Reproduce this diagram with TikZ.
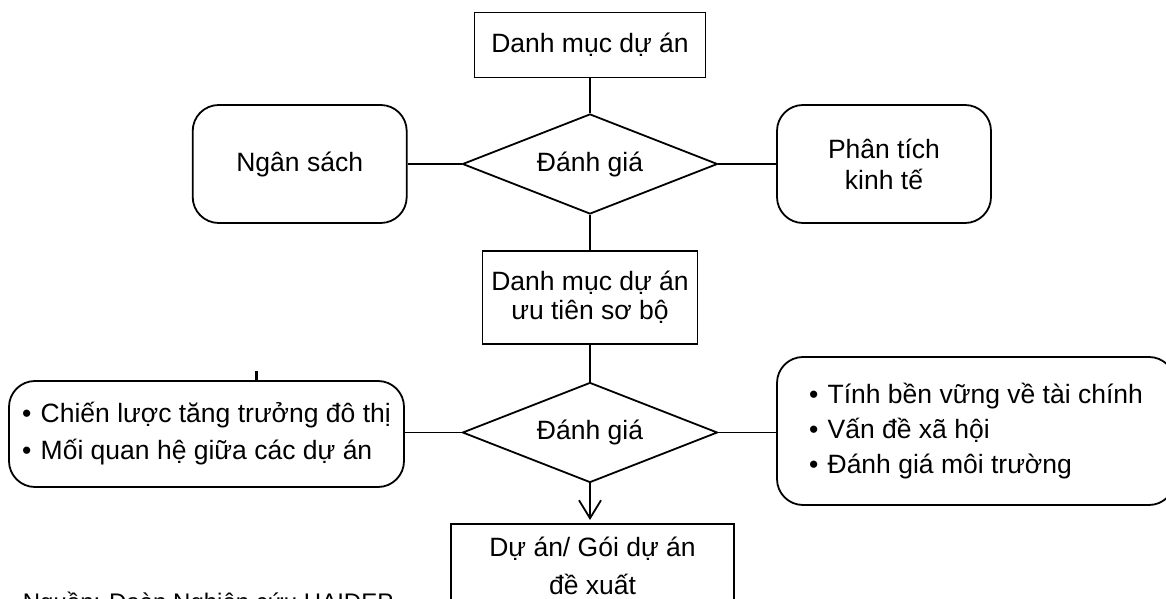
\documentclass[tikz,border=0pt]{standalone}
\usepackage{fontspec}
\setmainfont{Liberation Sans}
\usetikzlibrary{shapes.geometric,arrows.meta}
\begin{document}
\begin{tikzpicture}[x=1bp,y=-1bp, line width=1.8bp,
  every node/.style={font=\fontsize{26.5bp}{31bp}\selectfont, inner sep=0pt},
  sqbox/.style={draw, rectangle},
  rbox/.style={draw, rectangle, rounded corners=26bp},
  dia/.style={draw, diamond, minimum width=255bp, minimum height=100bp, aspect=2.55},
  conn/.style={draw, line width=1.8bp}]
\useasboundingbox (0,0) rectangle (1166,599);
\fill[white] (0,0) rectangle (1166,599);

\node[sqbox, minimum width=231bp, minimum height=65bp] (top) at (590,45) {Danh mục dự án};
\node[dia] (d1) at (590,164) {Đánh giá};
\node[rbox, minimum width=214bp, minimum height=118bp] (budget) at (299.7,164) {Ngân sách};
\node[rbox, minimum width=214bp, minimum height=118bp, align=center] (econ) at (884,164) {Phân tích\\kinh tế};
\node[sqbox, minimum width=215bp, minimum height=93bp, align=center,
      font=\fontsize{26.5bp}{29.5bp}\selectfont] (pri) at (590,297.5) {Danh mục dự án\\ưu tiên sơ bộ};
\node[dia] (d2) at (590,432.5) {Đánh giá};
\node[rbox, minimum width=395bp, minimum height=106bp, align=left,
      font=\fontsize{26.5bp}{37bp}\selectfont] (lb) at (206.5,434)
      {•\hspace{0.35em}Chiến lược tăng trưởng đô thị\\•\hspace{0.35em}Mối quan hệ giữa các dự án};
\node[rbox, minimum width=398bp, minimum height=148bp, align=left,
      font=\fontsize{26.5bp}{35bp}\selectfont] (rb) at (976,431)
      {•\hspace{0.35em}Tính bền vững về tài chính\\•\hspace{0.35em}Vấn đề xã hội\\•\hspace{0.35em}Đánh giá môi trường};
\node[sqbox, minimum width=283bp, minimum height=130bp, anchor=north] (out) at (592.5,523) {};
\node[align=center, font=\fontsize{26.5bp}{38bp}\selectfont] (outtext) at (592.5,566) {Dự án/ Gói dự án\\đề xuất};
\node[anchor=base west, font=\fontsize{24bp}{28bp}\selectfont] (src) at (22,610) {Nguồn: Đoàn Nghiên cứu HAIDEP};

\coordinate (tick) at (256,371);

\draw[conn] (top.south) -- (d1.north);
\draw[conn] (budget.east) -- (d1.west);
\draw[conn] (d1.east) -- (econ.west);
\draw[conn] (d1.south) -- (pri.north);
\draw[conn] (pri.south) -- (d2.north);
\draw[conn] (d2.west) -- (d2.west -| lb.east);
\draw[conn] (d2.east) -- (d2.east -| rb.west);
\draw[conn, -{Straight Barb[length=18bp, width=22bp, line width=1.8bp]}, shorten >=3bp] (d2.south) -- (d2.south |- out.north);
\draw[line width=3bp] (tick) -- (tick |- lb.north);
\end{tikzpicture}
\end{document}
